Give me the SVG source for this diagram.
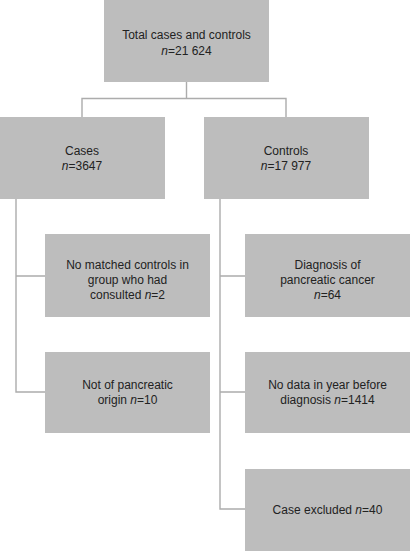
<svg xmlns="http://www.w3.org/2000/svg" width="410" height="551" viewBox="0 0 410 551">
<style>
.box{fill:#bdbdbd;}
.lbl{font-family:"Liberation Sans",Arial,sans-serif;font-size:12px;fill:#222;text-anchor:middle;}
.i{font-style:italic;}
.ln{fill:none;stroke:#acacac;stroke-width:1.4;}
</style>
<rect width="410" height="551" fill="#ffffff"/>
<g id="connectors">
<path class="ln" d="M186.5 82 V98.5 M82 117 V98.5 H286 V117"/>
<path class="ln" d="M16 199 V392 H45 M16 276 H45"/>
<path class="ln" d="M220 199 V509 H245 M220 276 H245 M220 392 H245"/>
</g>
<g id="total">
<rect class="box" x="104" y="0" width="165" height="82"/>
<text class="lbl" x="186.5" y="38.5">Total cases and controls</text>
<text class="lbl" x="186.5" y="54.5"><tspan class="i">n</tspan>=21 624</text>
</g>
<g id="cases">
<rect class="box" x="0" y="117" width="165" height="82"/>
<text class="lbl" x="82" y="155">Cases</text>
<text class="lbl" x="82" y="170"><tspan class="i">n</tspan>=3647</text>
</g>
<g id="controls">
<rect class="box" x="204" y="117" width="165" height="82"/>
<text class="lbl" x="286" y="155">Controls</text>
<text class="lbl" x="286" y="170"><tspan class="i">n</tspan>=17 977</text>
</g>
<g id="nomatched">
<rect class="box" x="45" y="234" width="165" height="83"/>
<text class="lbl" x="127.5" y="268.5">No matched controls in</text>
<text class="lbl" x="127.5" y="283.5">group who had</text>
<text class="lbl" x="127.5" y="298.5">consulted <tspan class="i">n</tspan>=2</text>
</g>
<g id="notpancreatic">
<rect class="box" x="45" y="352" width="165" height="81"/>
<text class="lbl" x="127.5" y="389">Not of pancreatic</text>
<text class="lbl" x="127.5" y="404">origin <tspan class="i">n</tspan>=10</text>
</g>
<g id="diagnosis">
<rect class="box" x="245" y="234" width="165" height="83"/>
<text class="lbl" x="327.5" y="268.5">Diagnosis of</text>
<text class="lbl" x="327.5" y="283.5">pancreatic cancer</text>
<text class="lbl" x="327.5" y="298.5"><tspan class="i">n</tspan>=64</text>
</g>
<g id="nodata">
<rect class="box" x="245" y="352" width="165" height="81"/>
<text class="lbl" x="327.5" y="389">No data in year before</text>
<text class="lbl" x="327.5" y="404">diagnosis <tspan class="i">n</tspan>=1414</text>
</g>
<g id="excluded">
<rect class="box" x="245" y="469" width="165" height="82"/>
<text class="lbl" x="327.5" y="514">Case excluded <tspan class="i">n</tspan>=40</text>
</g>
</svg>
